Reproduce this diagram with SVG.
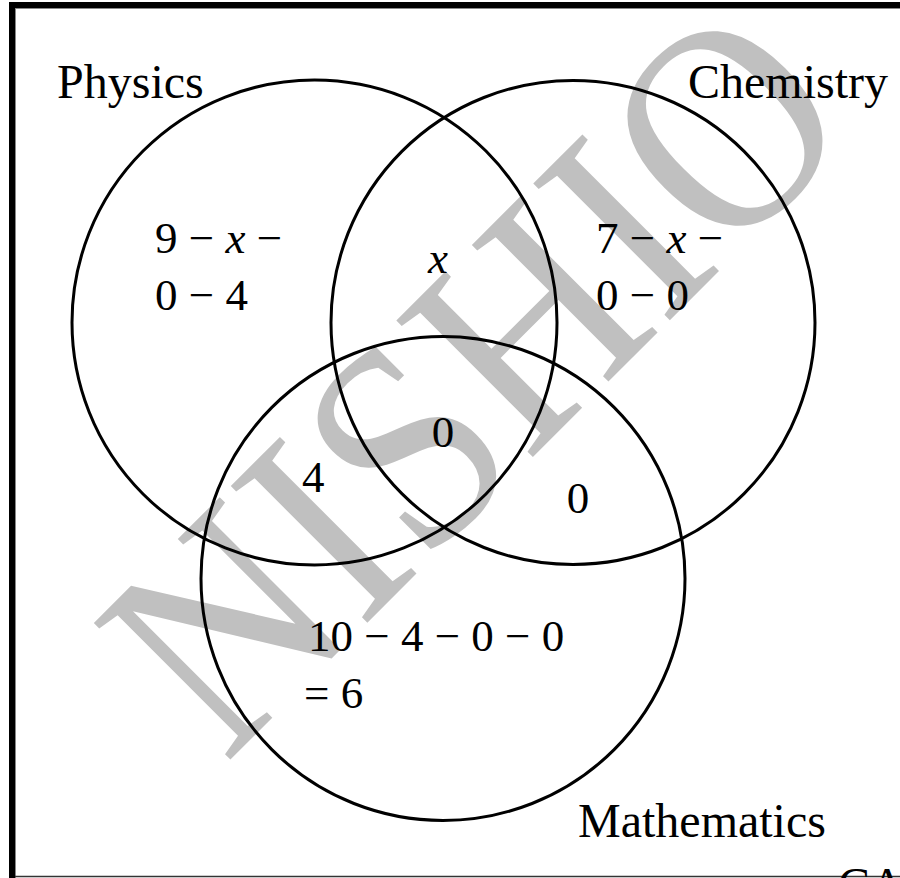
<svg xmlns="http://www.w3.org/2000/svg" width="900" height="878" viewBox="0 0 900 878">
<style>
.t{font-family:"Liberation Serif","Times New Roman",serif;fill:#000}
.lab{font-size:48px}
.val{font-size:45px}
.c{fill:none;stroke:#000;stroke-width:3}
</style>
<rect x="0" y="0" width="900" height="878" fill="#fff"/>
<g id="watermark">
<text font-family="Liberation Serif, serif" font-size="295" fill="#c0c0c0" transform="translate(225,765) rotate(-45) scale(0.9,1)" x="0" y="0">NISHIO</text>
</g>
<g id="frame">
<rect x="9" y="2" width="891" height="6" fill="#000"/>
<rect x="9" y="2" width="6" height="876" fill="#000"/>
<line x1="15.5" y1="8" x2="15.5" y2="878" stroke="#888" stroke-width="1"/>
<line x1="15" y1="8.5" x2="900" y2="8.5" stroke="#888" stroke-width="1"/>
<line x1="15" y1="876.5" x2="900" y2="876.5" stroke="#333" stroke-width="1.5"/>
</g>
<g id="physics">
<circle class="c" cx="314.5" cy="322.5" r="242.5"/>
<text class="t lab" x="57" y="98">Physics</text>
<text class="t val" x="155" y="253">9 − <tspan font-style="italic">x</tspan> −</text>
<text class="t val" x="155" y="310">0 − 4</text>
</g>
<g id="chemistry">
<circle class="c" cx="573" cy="322.5" r="242"/>
<text class="t lab" x="688" y="98">Chemistry</text>
<text class="t val" x="596" y="253">7 − <tspan font-style="italic">x</tspan> −</text>
<text class="t val" x="596" y="310">0 − 0</text>
</g>
<g id="mathematics">
<circle class="c" cx="443" cy="578.5" r="242"/>
<text class="t lab" x="578" y="837">Mathematics</text>
<text class="t val" x="308" y="651">10 − 4 − 0 − 0</text>
<text class="t val" x="304" y="708">= 6</text>
</g>
<g id="regions">
<text class="t val" x="438" y="273" text-anchor="middle" font-style="italic">x</text>
<text class="t val" x="443" y="447" text-anchor="middle">0</text>
<text class="t val" x="302" y="492">4</text>
<text class="t val" x="578" y="513" text-anchor="middle">0</text>
</g>
<g id="footer">
<text class="t lab" x="838" y="901">CA</text>
</g>
</svg>
